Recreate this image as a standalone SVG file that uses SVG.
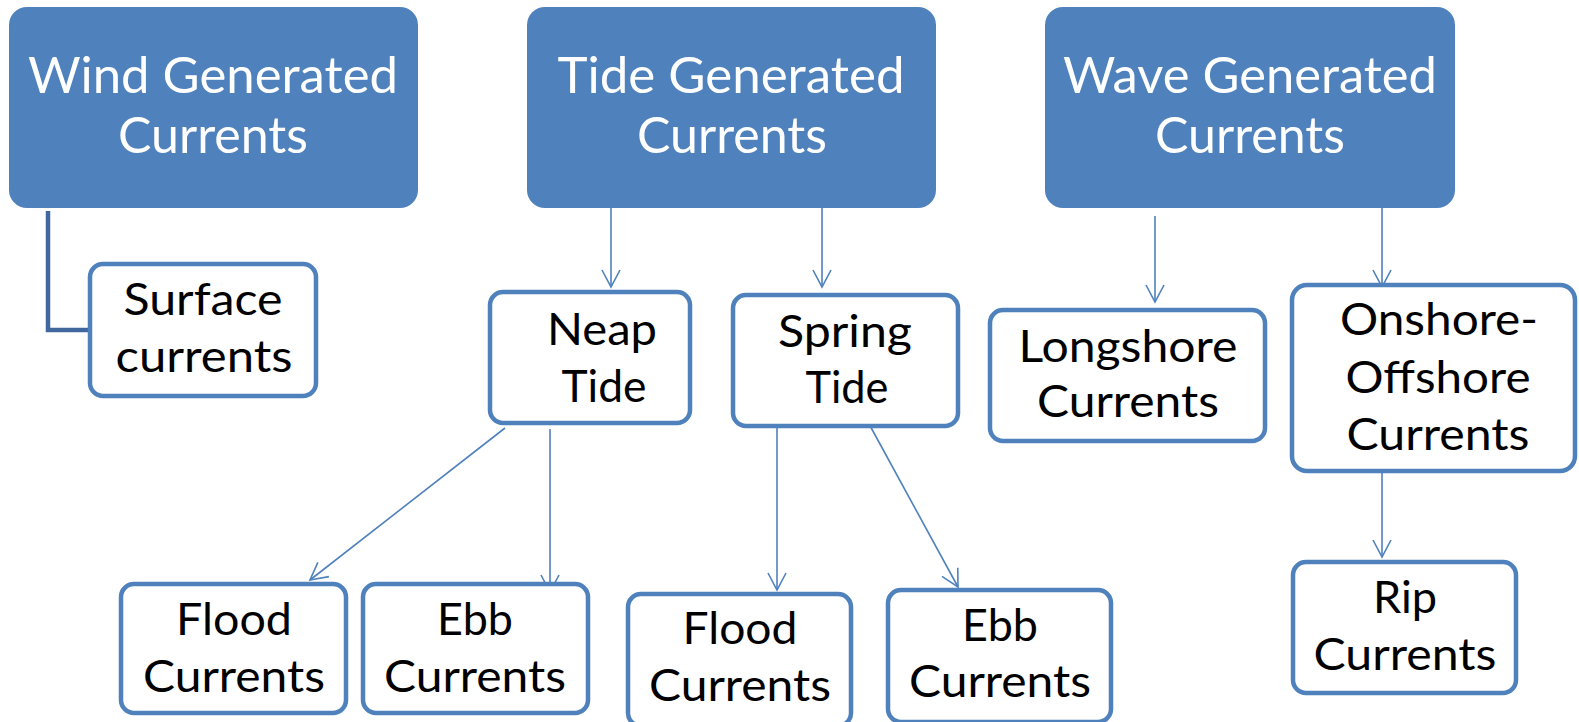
<svg xmlns="http://www.w3.org/2000/svg" width="1579" height="722" viewBox="0 0 1579 722">
  <style>
    .head rect { fill: #4F81BD; }
    .head text { fill: #FFFFFF; font-family: Lato, "Open Sans", "Liberation Sans", sans-serif; font-size: 51px; text-anchor: middle; }
    .leaf rect { fill: #FFFFFF; stroke: #4F81BD; stroke-width: 4.5; }
    .leaf text { fill: #000000; font-family: Lato, "Open Sans", "Liberation Sans", sans-serif; font-size: 45px; text-anchor: middle; }
    .link { fill: none; stroke: #4F81BD; stroke-width: 1.6; marker-end: url(#vee); }
    .elbow { fill: none; stroke: #41689E; stroke-width: 4.5; }
  </style>
  <defs>
    <marker id="vee" markerUnits="userSpaceOnUse" viewBox="-20 -12 24 24" refX="0" refY="0" markerWidth="24" markerHeight="24" orient="auto" overflow="visible">
      <path d="M-17,-9 L0,0 L-17,9" fill="none" stroke="#4F81BD" stroke-width="1.6"/>
    </marker>
  </defs>

  <rect width="1579" height="722" fill="#FFFFFF"/>

  <!-- connectors -->
  <g id="connectors">
    <polyline class="elbow" points="48,211 48,330 90,330"/>
    <line class="link" x1="611" y1="207" x2="611" y2="287"/>
    <line class="link" x1="822" y1="207" x2="822" y2="287"/>
    <line class="link" x1="505" y1="428" x2="310" y2="580"/>
    <line class="link" x1="550" y1="429" x2="550" y2="592"/>
    <line class="link" x1="777" y1="428" x2="777" y2="590"/>
    <line class="link" x1="868" y1="422" x2="958" y2="587"/>
    <line class="link" x1="1155" y1="216" x2="1155" y2="302"/>
    <line class="link" x1="1382" y1="207" x2="1382" y2="287"/>
    <line class="link" x1="1382" y1="473" x2="1382" y2="557"/>
  </g>

  <!-- top-level categories -->
  <g id="wind" class="head">
    <rect x="9" y="7" width="409" height="201" rx="18"/>
    <text x="213" y="93" textLength="370" lengthAdjust="spacingAndGlyphs">Wind Generated</text>
    <text x="213" y="153" textLength="190" lengthAdjust="spacingAndGlyphs">Currents</text>
  </g>
  <g id="tide" class="head">
    <rect x="527" y="7" width="409" height="201" rx="18"/>
    <text x="731" y="93" textLength="347" lengthAdjust="spacingAndGlyphs">Tide Generated</text>
    <text x="732" y="153" textLength="190" lengthAdjust="spacingAndGlyphs">Currents</text>
  </g>
  <g id="wave" class="head">
    <rect x="1045" y="7" width="410" height="201" rx="18"/>
    <text x="1250" y="93" textLength="374" lengthAdjust="spacingAndGlyphs">Wave Generated</text>
    <text x="1250" y="153" textLength="190" lengthAdjust="spacingAndGlyphs">Currents</text>
  </g>

  <!-- sub-types -->
  <g id="surface" class="leaf">
    <rect x="90" y="264" width="226" height="132" rx="13"/>
    <text x="203" y="315" textLength="159" lengthAdjust="spacingAndGlyphs">Surface</text>
    <text x="204" y="372" textLength="177" lengthAdjust="spacingAndGlyphs">currents</text>
  </g>
  <g id="neap" class="leaf">
    <rect x="490" y="292" width="200" height="131" rx="13"/>
    <text x="602" y="345" textLength="110" lengthAdjust="spacingAndGlyphs">Neap</text>
    <text x="604" y="402" textLength="85" lengthAdjust="spacingAndGlyphs">Tide</text>
  </g>
  <g id="spring" class="leaf">
    <rect x="733" y="295" width="225" height="131" rx="13"/>
    <text x="845" y="347" textLength="134" lengthAdjust="spacingAndGlyphs">Spring</text>
    <text x="847" y="403" textLength="83" lengthAdjust="spacingAndGlyphs">Tide</text>
  </g>
  <g id="neap-flood" class="leaf">
    <rect x="121" y="584" width="225" height="129" rx="13"/>
    <text x="234" y="635" textLength="116" lengthAdjust="spacingAndGlyphs">Flood</text>
    <text x="234" y="692" textLength="182" lengthAdjust="spacingAndGlyphs">Currents</text>
  </g>
  <g id="neap-ebb" class="leaf">
    <rect x="363" y="584" width="225" height="129" rx="13"/>
    <text x="475" y="635" textLength="76" lengthAdjust="spacingAndGlyphs">Ebb</text>
    <text x="475" y="692" textLength="182" lengthAdjust="spacingAndGlyphs">Currents</text>
  </g>
  <g id="spring-flood" class="leaf">
    <rect x="628" y="594" width="223" height="132" rx="13"/>
    <text x="740" y="644" textLength="115" lengthAdjust="spacingAndGlyphs">Flood</text>
    <text x="740" y="701" textLength="182" lengthAdjust="spacingAndGlyphs">Currents</text>
  </g>
  <g id="spring-ebb" class="leaf">
    <rect x="888" y="590" width="223" height="132" rx="13"/>
    <text x="1000" y="641" textLength="76" lengthAdjust="spacingAndGlyphs">Ebb</text>
    <text x="1000" y="697" textLength="182" lengthAdjust="spacingAndGlyphs">Currents</text>
  </g>
  <g id="longshore" class="leaf">
    <rect x="990" y="310" width="275" height="131" rx="13"/>
    <text x="1128" y="362" textLength="219" lengthAdjust="spacingAndGlyphs">Longshore</text>
    <text x="1128" y="417" textLength="182" lengthAdjust="spacingAndGlyphs">Currents</text>
  </g>
  <g id="onshore-offshore" class="leaf">
    <rect x="1292" y="285" width="283" height="186" rx="15"/>
    <text x="1439" y="335" textLength="198" lengthAdjust="spacingAndGlyphs">Onshore-</text>
    <text x="1438" y="393" textLength="185" lengthAdjust="spacingAndGlyphs">Offshore</text>
    <text x="1438" y="450" textLength="183" lengthAdjust="spacingAndGlyphs">Currents</text>
  </g>
  <g id="rip" class="leaf">
    <rect x="1293" y="562" width="223" height="131" rx="13"/>
    <text x="1405" y="613" textLength="64" lengthAdjust="spacingAndGlyphs">Rip</text>
    <text x="1405" y="670" textLength="183" lengthAdjust="spacingAndGlyphs">Currents</text>
  </g>
</svg>
